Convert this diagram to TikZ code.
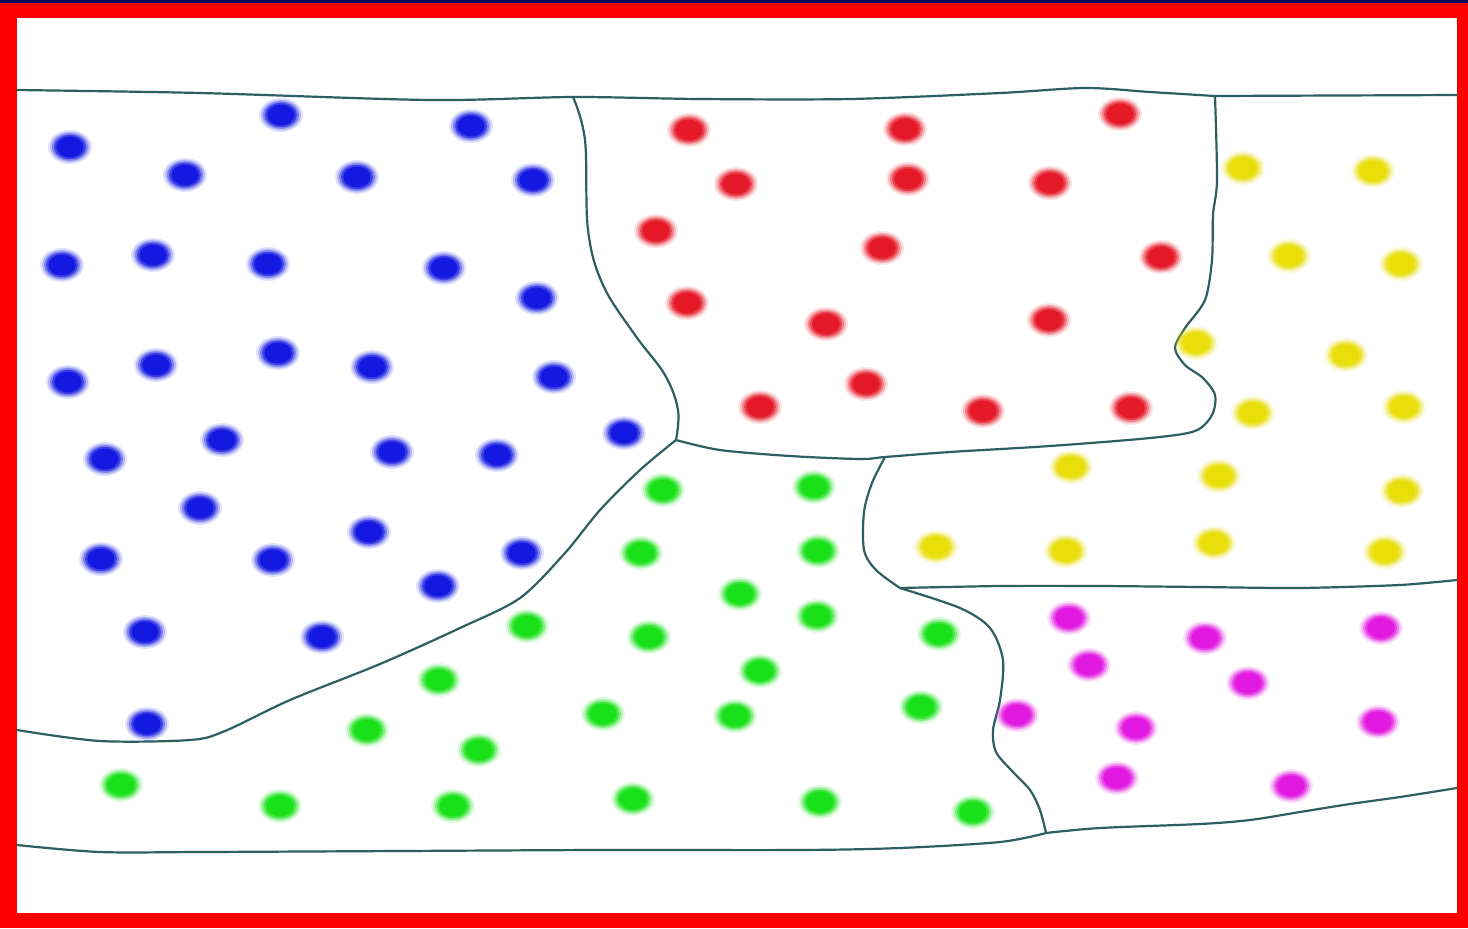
\documentclass[tikz,border=0pt]{standalone}
\definecolor{navy}{RGB}{10,10,90}
\definecolor{frame}{RGB}{255,0,0}
\definecolor{edge}{RGB}{45,95,95}
\definecolor{cblue}{RGB}{20,25,225}
\definecolor{cred}{RGB}{230,25,40}
\definecolor{cyel}{RGB}{232,222,10}
\definecolor{cgreen}{RGB}{25,225,25}
\definecolor{cmag}{RGB}{225,25,225}
\newcommand\blob[3]{%
  \fill[#1,opacity=0.12] (#2,#3) ellipse [x radius=11pt,y radius=8.5pt];
  \fill[#1,opacity=0.2] (#2,#3) ellipse [x radius=10pt,y radius=7.7pt];
  \fill[#1,opacity=0.35] (#2,#3) ellipse [x radius=9pt,y radius=6.9pt];
  \fill[#1,opacity=0.6] (#2,#3) ellipse [x radius=8pt,y radius=6.1pt];
  \fill[#1] (#2,#3) ellipse [x radius=6.8pt,y radius=5.2pt];}
\tikzset{border/.style={draw=edge,line width=1.1pt,line cap=round,line join=round}}
\begin{document}
\begin{tikzpicture}[x=0.5pt,y=-0.5pt]
\useasboundingbox (0,0) rectangle (1468,928);
\fill[navy] (0,0) rectangle (1468,928);
\fill[frame] (0,3) rectangle (1468,928);
\fill[white] (17,18) rectangle (1457,913);
% junctions
\coordinate (tl) at (17,90);
\coordinate (jBR) at (573,97);
\coordinate (jRY) at (1215,96);
\coordinate (tr) at (1457,95);
\coordinate (jBG) at (676,440);
\coordinate (jGY) at (885,457);
\coordinate (jGM) at (900,588);
\coordinate (jMB) at (1046,833);
% top line
\draw[border] plot[smooth,tension=0.5] coordinates {(17,90) (200,93) (430,100) (573,97) (700,99) (850,99) (1000,93) (1085,88) (1150,92) (1215,96)};
\draw[border] (jRY) -- (tr);
% blue/red
\draw[border] plot[smooth,tension=0.6] coordinates {(573,97) (585,140) (588,230) (603,285) (635,335) (665,375) (678,410) (676,440)};
% blue/green
\draw[border] plot[smooth,tension=0.5] coordinates {(676,440) (640,470) (600,510) (565,553) (520,598) (460,628) (380,664) (290,700) (225,731) (190,740) (100,741) (17,730)};
% red/green/yellow lower edge
\draw[border] plot[smooth,tension=0.5] coordinates {(676,440) (720,450) (790,456) (860,459) (885,457) (950,452) (1050,446) (1150,438) (1195,431) (1212,415) (1215,395) (1203,378) (1185,365) (1175,348) (1185,328) (1205,300) (1212,260) (1213,215) (1217,180) (1215,96)};
% green/yellow
\draw[border] plot[smooth,tension=0.5] coordinates {(885,457) (872,483) (864,512) (864,550) (876,570) (900,588)};
% yellow/magenta
\draw[border] plot[smooth,tension=0.4] coordinates {(900,588) (1000,586) (1100,586) (1200,587) (1300,588) (1400,585) (1457,580)};
% green/magenta
\draw[border] plot[smooth,tension=0.5] coordinates {(900,588) (960,608) (990,628) (1003,660) (1000,700) (993,730) (996,752) (1012,771) (1030,790) (1040,810) (1046,833)};
% bottom
\draw[border] plot[smooth,tension=0.5] coordinates {(17,845) (100,852) (200,852) (400,851) (600,850) (800,850) (900,848) (1000,842) (1046,833)};
\draw[border] plot[smooth,tension=0.5] coordinates {(1046,833) (1100,828) (1200,824) (1250,820) (1300,812) (1350,804) (1400,797) (1457,788)};
% dots
\foreach \x/\y in {70/147,281/115,471/126,185/175,357/177,533/180,62/265,153/255,268/264,444/268,537/298,68/382,156/365,278/353,372/367,554/377,624/433,105/459,222/440,392/452,497/455,200/508,369/532,101/559,273/560,522/553,438/586,145/632,322/637,147/724}{\blob{cblue}{\x}{\y}}
\foreach \x/\y in {689/130,905/129,1120/114,736/184,908/179,1050/183,656/231,882/248,1161/257,687/303,826/324,1049/320,866/384,760/407,983/411,1131/408}{\blob{cred}{\x}{\y}}
\foreach \x/\y in {1243/168,1373/171,1289/256,1401/264,1196/343,1346/355,1253/413,1404/407,1071/467,1219/476,1402/491,936/547,1066/551,1214/543,1385/552}{\blob{cyel}{\x}{\y}}
\foreach \x/\y in {663/490,814/487,641/553,818/551,740/594,817/616,527/626,649/637,939/634,439/680,760/671,367/730,603/714,735/716,921/707,479/750,121/785,280/806,453/806,633/799,820/802,973/812}{\blob{cgreen}{\x}{\y}}
\foreach \x/\y in {1069/618,1205/638,1381/628,1089/665,1248/683,1017/715,1136/728,1378/722,1117/778,1291/786}{\blob{cmag}{\x}{\y}}
\end{tikzpicture}
\end{document}
